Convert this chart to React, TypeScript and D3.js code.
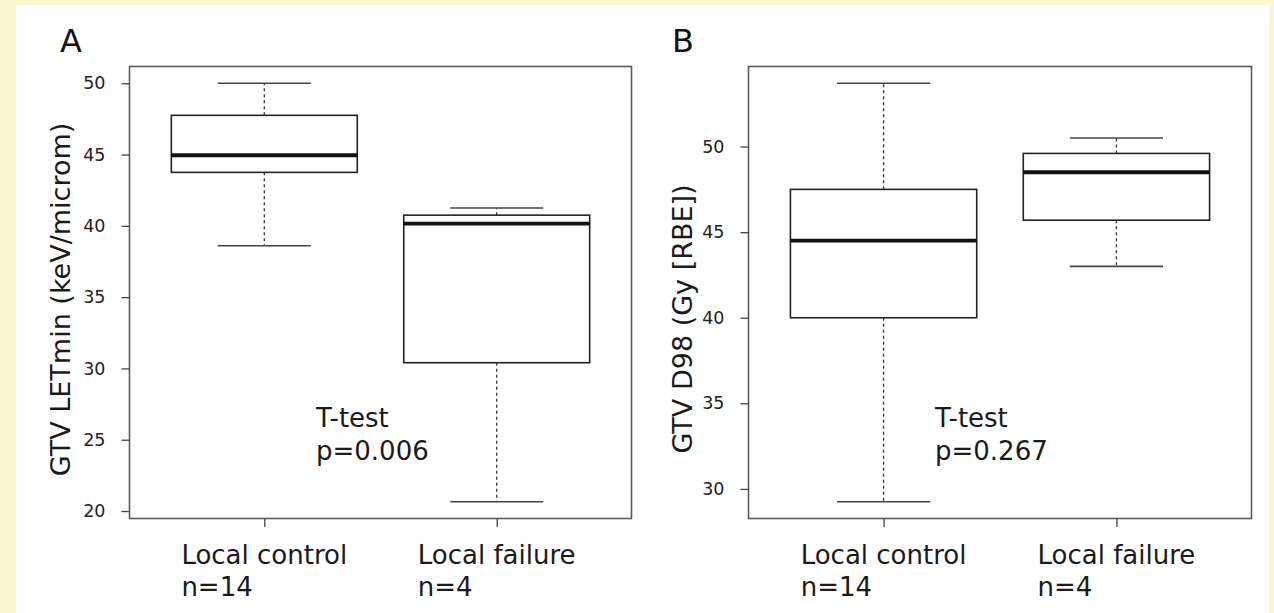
import React, { useEffect, useRef } from "react";
import * as d3 from "d3";

// Groups compared in both panels
const groups = ["Local control", "Local failure"];
const groupCounts = [14, 4];

// Panel A: GTV LETmin (keV/microm) box statistics per group
const letLow = [38.6, 20.65];
const letQ1 = [43.75, 30.4];
const letMedian = [44.95, 40.15];
const letQ3 = [47.75, 40.75];
const letHigh = [50.0, 41.25];
const letTicks = [20, 25, 30, 35, 40, 45, 50];

// Panel B: GTV D98 (Gy [RBE]) box statistics per group
const doseLow = [29.25, 43.0];
const doseQ1 = [40.0, 45.7];
const doseMedian = [44.5, 48.5];
const doseQ3 = [47.5, 49.6];
const doseHigh = [53.7, 50.5];
const doseTicks = [30, 35, 40, 45, 50];

const testName = "T-test";
const pValues = ["0.006", "0.267"];

type Panel = {
  letter: string;
  yTitle: string;
  low: number[];
  q1: number[];
  median: number[];
  q3: number[];
  high: number[];
  ticks: number[];
  p: string;
  frame: { x0: number; x1: number; y0: number; y1: number };
  letterPos: [number, number];
  titlePos: [number, number];
  notePos: [number, number];
};

const panels: Panel[] = [
  {
    letter: "A",
    yTitle: "GTV LETmin (keV/microm)",
    low: letLow,
    q1: letQ1,
    median: letMedian,
    q3: letQ3,
    high: letHigh,
    ticks: letTicks,
    p: pValues[0],
    frame: { x0: 129.5, x1: 631.5, y0: 66.5, y1: 518.5 },
    letterPos: [60, 52],
    titlePos: [69.5, 299.5],
    notePos: [316, 427],
  },
  {
    letter: "B",
    yTitle: "GTV D98 (Gy [RBE])",
    low: doseLow,
    q1: doseQ1,
    median: doseMedian,
    q3: doseQ3,
    high: doseHigh,
    ticks: doseTicks,
    p: pValues[1],
    frame: { x0: 748.5, x1: 1251.5, y0: 66.5, y1: 518.5 },
    letterPos: [672, 52],
    titlePos: [692, 319],
    notePos: [935, 427],
  },
];

const FONT = "'DejaVu Sans', Verdana, sans-serif";

export default function App() {
  const ref = useRef<SVGSVGElement | null>(null);

  useEffect(() => {
    const svg = d3.select(ref.current);
    svg.selectAll("*").remove();

    // page background and white figure sheet
    svg.append("rect").attr("width", 1274).attr("height", 613).attr("fill", "#FCF6D3");
    svg.append("rect").attr("x", 16).attr("y", 5).attr("width", 1253).attr("height", 608).attr("fill", "#ffffff");

    panels.forEach((pn) => {
      const g = svg.append("g");
      const { x0, x1, y0, y1 } = pn.frame;

      // R-style 4% extension around the data range
      const lo = d3.min(pn.low) as number;
      const hi = d3.max(pn.high) as number;
      const pad = (hi - lo) * 0.04;
      const y = d3.scaleLinear().domain([lo - pad, hi + pad]).range([y1, y0]);
      const x = d3.scaleLinear().domain([0.42, 2.58]).range([x0, x1]);

      // boxes
      groups.forEach((_, i) => {
        const c = x(i + 1);
        const bl = x(i + 1 - 0.4);
        const br = x(i + 1 + 0.4);
        const cl = x(i + 1 - 0.2);
        const cr = x(i + 1 + 0.2);

        // whiskers
        g.append("line")
          .attr("x1", c).attr("x2", c)
          .attr("y1", y(pn.q3[i])).attr("y2", y(pn.high[i]))
          .attr("stroke", "#333").attr("stroke-width", 1.3).attr("stroke-dasharray", "3,3");
        g.append("line")
          .attr("x1", c).attr("x2", c)
          .attr("y1", y(pn.q1[i])).attr("y2", y(pn.low[i]))
          .attr("stroke", "#333").attr("stroke-width", 1.3).attr("stroke-dasharray", "3,3");
        // staples
        [pn.high[i], pn.low[i]].forEach((v) => {
          g.append("line")
            .attr("x1", cl).attr("x2", cr)
            .attr("y1", y(v)).attr("y2", y(v))
            .attr("stroke", "#444").attr("stroke-width", 1.6);
        });
        // box
        g.append("rect")
          .attr("x", bl).attr("y", y(pn.q3[i]))
          .attr("width", br - bl).attr("height", y(pn.q1[i]) - y(pn.q3[i]))
          .attr("fill", "#fff").attr("stroke", "#222").attr("stroke-width", 1.6);
        // median
        g.append("line")
          .attr("x1", bl).attr("x2", br)
          .attr("y1", y(pn.median[i])).attr("y2", y(pn.median[i]))
          .attr("stroke", "#111").attr("stroke-width", 3.8);
      });

      // frame
      g.append("rect")
        .attr("x", x0).attr("y", y0).attr("width", x1 - x0).attr("height", y1 - y0)
        .attr("fill", "none").attr("stroke", "#5a5a5a").attr("stroke-width", 1.6);

      // y axis
      const yAxis = g.append("g").attr("transform", `translate(${x0},0)`)
        .call(d3.axisLeft(y).tickValues(pn.ticks).tickSize(8).tickPadding(16).tickFormat(d3.format("d")));
      yAxis.select(".domain").remove();
      yAxis.selectAll(".tick line").attr("stroke", "#444").attr("stroke-width", 1.3);
      yAxis.selectAll(".tick text")
        .attr("fill", "#222").style("font-family", FONT).style("font-size", "17.5px");

      // x axis ticks
      const xAxis = g.append("g").attr("transform", `translate(0,${y1})`)
        .call(d3.axisBottom(x).tickValues([1, 2]).tickSize(8.5).tickFormat(() => ""));
      xAxis.select(".domain").remove();
      xAxis.selectAll(".tick line").attr("stroke", "#444").attr("stroke-width", 1.3);

      // group labels: two left-aligned lines, block centred on the tick
      groups.forEach((name, i) => {
        const t = g.append("text")
          .attr("y", 564)
          .attr("fill", "#1a1a1a")
          .style("font-family", FONT).style("font-size", "26px")
          .text(name);
        const w = (t.node() as SVGTextElement).getComputedTextLength();
        const left = x(i + 1) - w / 2;
        t.attr("x", left);
        g.append("text")
          .attr("x", left).attr("y", 596)
          .attr("fill", "#1a1a1a")
          .style("font-family", FONT).style("font-size", "26px")
          .text(`n=${groupCounts[i]}`);
      });

      // test annotation
      g.append("text")
        .attr("x", pn.notePos[0]).attr("y", pn.notePos[1])
        .attr("fill", "#1a1a1a").style("font-family", FONT).style("font-size", "26px")
        .text(testName);
      g.append("text")
        .attr("x", pn.notePos[0]).attr("y", pn.notePos[1] + 32.5)
        .attr("fill", "#1a1a1a").style("font-family", FONT).style("font-size", "26px")
        .text(`p=${pn.p}`);

      // y title
      g.append("text")
        .attr("transform", `translate(${pn.titlePos[0]},${pn.titlePos[1]}) rotate(-90)`)
        .attr("text-anchor", "middle")
        .attr("fill", "#1a1a1a").style("font-family", FONT).style("font-size", "27px")
        .text(pn.yTitle);

      // panel letter
      g.append("text")
        .attr("x", pn.letterPos[0]).attr("y", pn.letterPos[1])
        .attr("fill", "#111").style("font-family", FONT).style("font-size", "32px")
        .text(pn.letter);
    });
  }, []);

  return (
    <svg
      ref={ref}
      width={1274}
      height={613}
      style={{ position: "absolute", left: 0, top: 0, display: "block" }}
    />
  );
}
